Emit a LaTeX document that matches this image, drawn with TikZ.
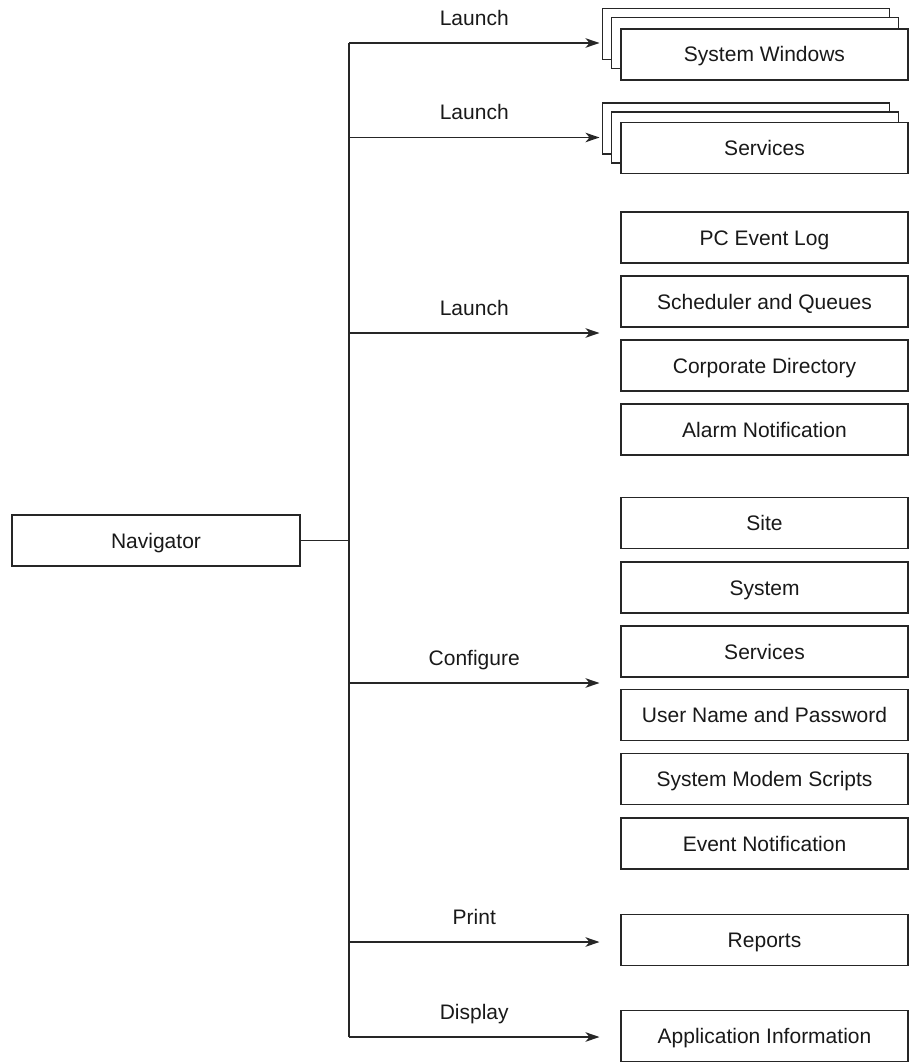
\documentclass[tikz,border=0pt]{standalone}
\usepackage{fontspec}
\setmainfont{Liberation Sans}
\usetikzlibrary{arrows.meta}
\begin{document}
\begin{tikzpicture}[x=1pt, y=-1pt,
  line width=1.7pt, draw=black!85,
  box/.style={draw=black!85, fill=white, minimum width=287pt, minimum height=51pt,
    inner sep=0pt, font=\fontsize{21}{25}\selectfont, text=black!90,
    text height=15pt, text depth=0pt},
  link/.style={-{Stealth[length=14pt, width=9.5pt, inset=4pt]}},
  lbl/.style={anchor=base, yshift=17.5pt, font=\fontsize{21}{25}\selectfont, text=black!90}
]
\useasboundingbox (0,0) rectangle (909,1062);

% source box
\node[box, minimum width=288pt] (nav) at (156,540.5) {Navigator};

% stacked windows
\node[box] (sw3) at (746,34) {};
\node[box] (sw2) at (755,43) {};
\node[box] (sw)  at (764.5,54.5) {System Windows};
\node[box] (sv3) at (746,128.5) {};
\node[box] (sv2) at (755,137.5) {};
\node[box] (sv)  at (764.5,148) {Services};

% launched tools
\node[box] (pc)    at (764.5,237.5) {PC Event Log};
\node[box] (sched) at (764.5,301.5) {Scheduler and Queues};
\node[box] (corp)  at (764.5,365.5) {Corporate Directory};
\node[box] (alarm) at (764.5,429.5) {Alarm Notification};

% configuration pages
\node[box] (site)  at (764.5,523)   {Site};
\node[box] (sys)   at (764.5,587.5) {System};
\node[box] (svc)   at (764.5,651.5) {Services};
\node[box] (user)  at (764.5,715)   {User Name and Password};
\node[box] (modem) at (764.5,779)   {System Modem Scripts};
\node[box] (event) at (764.5,843.5) {Event Notification};

% output
\node[box] (rep)  at (764.5,940)  {Reports};
\node[box] (app)  at (764.5,1036) {Application Information};

% trunk and arrow ends
\coordinate (tn) at (349,540.5);
\coordinate (t1) at (349,43);
\coordinate (t2) at (349,137.5);
\coordinate (t3) at (349,333);
\coordinate (t4) at (349,683);
\coordinate (t5) at (349,942);
\coordinate (t6) at (349,1037);
\coordinate (e1) at (599.5,43);
\coordinate (e2) at (599.5,137.5);
\coordinate (e3) at (599.5,333);
\coordinate (e4) at (599.5,683);
\coordinate (e5) at (599.5,942);
\coordinate (e6) at (599.5,1037);

\draw (nav.east) -- (tn);
\draw (t1) -- (t6);

\draw[link] (t1) -- node[lbl] {Launch} (e1);
\draw[link] (t2) -- node[lbl] {Launch} (e2);
\draw[link] (t3) -- node[lbl] {Launch} (e3);
\draw[link] (t4) -- node[lbl] {Configure} (e4);
\draw[link] (t5) -- node[lbl] {Print} (e5);
\draw[link] (t6) -- node[lbl] {Display} (e6);
\end{tikzpicture}
\end{document}
